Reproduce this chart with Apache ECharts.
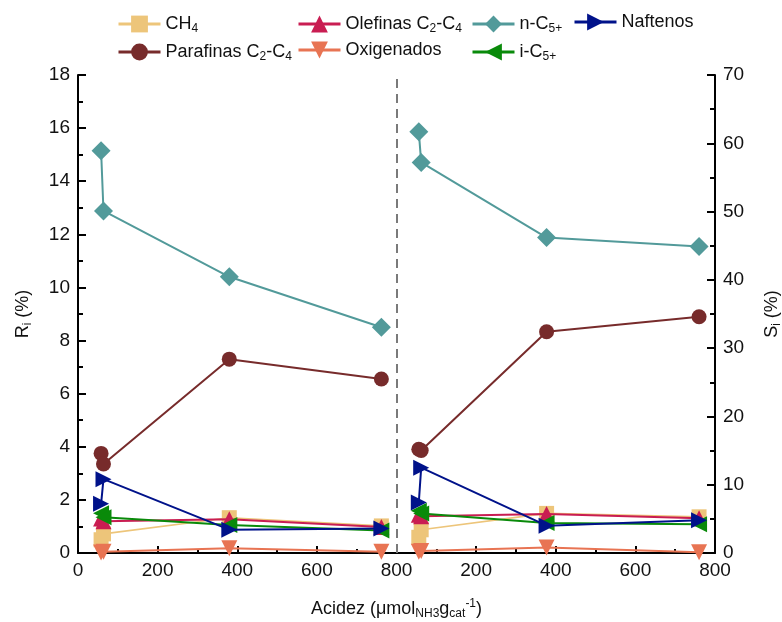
<!DOCTYPE html>
<html>
<head>
<meta charset="utf-8">
<script src="https://cdn.jsdelivr.net/npm/echarts@6/dist/echarts.min.js"></script>
<style>html,body{margin:0;padding:0;background:#fff}#c{width:782px;height:622px}</style>
</head>
<body>
<div id="c"></div>
<script>
// ---- data ----
const speciesNames = ['CH4', 'Parafinas C2-C4', 'Olefinas C2-C4', 'Oxigenados', 'n-C5+', 'i-C5+', 'Naftenos'];
// acidity (µmol NH3 / g cat) of the catalysts, left panel (R_i) and right panel (S_i)
const acidLeft = [58, 64, 380, 762];
const acidRight = [56, 62, 377, 760];
// R_i (%) – left panel
const rCH4 = [0.5, 0.72, 1.33, 1.02];
const rParafinas = [3.75, 3.35, 7.3, 6.55];
const rOlefinas = [1.3, 1.2, 1.27, 0.98];
const rOxigenados = [0.02, 0.05, 0.18, 0.05];
const rNC5 = [15.15, 12.88, 10.4, 8.5];
const rIC5 = [1.5, 1.35, 1.05, 0.85];
const rNaftenos = [1.85, 2.78, 0.88, 0.92];
// S_i (%) – right panel
const sCH4 = [2.3, 3.4, 5.8, 5.3];
const sParafinas = [15.2, 15.0, 32.4, 34.6];
const sOlefinas = [5.6, 5.4, 5.7, 5.1];
const sOxigenados = [0.2, 0.3, 0.8, 0.1];
const sNC5 = [61.7, 57.2, 46.2, 44.9];
const sIC5 = [6.2, 5.8, 4.4, 4.2];
const sNaftenos = [7.4, 12.5, 4.0, 4.8];
// axis ticks
const xTickStep = 200;
const panelWidth = 800;
const rTicks = {min: 0, max: 18, interval: 2};
const sTicks = {min: 0, max: 70, interval: 10};

// ---- styles ----
const styles = {
  'CH4': {color: '#EDC57A', symbol: 'rect', rotate: 0, size: 15, width: 1.6},
  'Parafinas C2-C4': {color: '#772B2B', symbol: 'circle', rotate: 0, size: 15, width: 2},
  'Olefinas C2-C4': {color: '#C91D52', symbol: 'triangle', rotate: 0, size: 16, width: 2},
  'Oxigenados': {color: '#E87453', symbol: 'triangle', rotate: 180, size: 16, width: 2},
  'n-C5+': {color: '#529A9A', symbol: 'diamond', rotate: 0, size: 19, width: 2},
  'i-C5+': {color: '#098A0A', symbol: 'triangle', rotate: 90, size: 16, width: 2},
  'Naftenos': {color: '#00128A', symbol: 'triangle', rotate: -90, size: 16, width: 2}
};
const leftVals = {'CH4': rCH4, 'Parafinas C2-C4': rParafinas, 'Olefinas C2-C4': rOlefinas, 'Oxigenados': rOxigenados, 'n-C5+': rNC5, 'i-C5+': rIC5, 'Naftenos': rNaftenos};
const rightVals = {'CH4': sCH4, 'Parafinas C2-C4': sParafinas, 'Olefinas C2-C4': sOlefinas, 'Oxigenados': sOxigenados, 'n-C5+': sNC5, 'i-C5+': sIC5, 'Naftenos': sNaftenos};
const legendLabels = {
  'CH4': '{n|CH}{s|4}',
  'Parafinas C2-C4': '{n|Parafinas C}{s|2}{n|-C}{s|4}',
  'Olefinas C2-C4': '{n|Olefinas C}{s|2}{n|-C}{s|4}',
  'Oxigenados': '{n|Oxigenados}',
  'n-C5+': '{n|n-C}{s|5+}',
  'i-C5+': '{n|i-C}{s|5+}',
  'Naftenos': '{n|Naftenos}'
};
const richText = {
  n: {fontSize: 18, fontFamily: 'Liberation Sans, Arial', color: '#111', lineHeight: 22},
  s: {fontSize: 12, fontFamily: 'Liberation Sans, Arial', color: '#111', verticalAlign: 'bottom', lineHeight: 14, padding: [10, 0, 0, 0]},
  p: {fontSize: 12, fontFamily: 'Liberation Sans, Arial', color: '#111', verticalAlign: 'top', lineHeight: 14, padding: [0, 0, 10, 0]}
};

const series = [];
speciesNames.forEach((name, k) => {
  const st = styles[name];
  const common = {
    name: name, type: 'line', symbol: st.symbol, symbolSize: st.size, symbolRotate: st.rotate,
    itemStyle: {color: st.color}, lineStyle: {color: st.color, width: st.width},
    z: 2 + k, animation: false
  };
  series.push(Object.assign({}, common, {
    xAxisIndex: 0, yAxisIndex: 0,
    data: acidLeft.map((x, i) => [x, leftVals[name][i]])
  }));
  series.push(Object.assign({}, common, {
    xAxisIndex: 0, yAxisIndex: 1,
    data: acidRight.map((x, i) => [x + panelWidth, rightVals[name][i]])
  }));
});
series[0].markLine = {
  silent: true, symbol: 'none', label: {show: false},
  lineStyle: {color: '#7a7a7a', type: [9, 6], width: 2},
  data: [{xAxis: panelWidth}]
};

const legendPos = {
  'CH4': [117, 13], 'Olefinas C2-C4': [297, 13], 'n-C5+': [471, 13], 'Naftenos': [573, 13],
  'Parafinas C2-C4': [117, 41], 'Oxigenados': [297, 41], 'i-C5+': [471, 41]
};
const legends = speciesNames.map(name => ({
  data: [name], left: legendPos[name][0], top: legendPos[name][1], padding: 0,
  itemWidth: 42, itemHeight: 21, selectedMode: false,
  lineStyle: {width: 3},
  formatter: n => legendLabels[n],
  textStyle: {rich: richText, fontSize: 18}
}));

const axisLabelStyle = {fontSize: 19, color: '#111', fontFamily: 'Liberation Sans, Arial'};
const option = {
  backgroundColor: '#fff',
  animation: false,
  legend: legends,
  grid: {left: 78, right: 67, top: 75, bottom: 69, containLabel: false, outerBoundsMode: 'none'},
  xAxis: {
    type: 'value', min: 0, max: 2 * panelWidth, interval: xTickStep,
    name: '{n|Acidez (μmol}{s|NH3}{n|g}{s|cat}{p|-1}{n|)}',
    nameLocation: 'middle', nameGap: 45,
    nameTextStyle: {rich: richText},
    axisLine: {lineStyle: {color: '#000', width: 2}},
    axisTick: {inside: true, length: 7, lineStyle: {color: '#000', width: 2}},
    minorTick: {show: true, splitNumber: 2, length: 4, lineStyle: {color: '#000', width: 2}},
    splitLine: {show: false},
    axisLabel: Object.assign({}, axisLabelStyle, {margin: 8, formatter: v => String(v <= panelWidth ? v : v - panelWidth)})
  },
  yAxis: [{
    type: 'value', min: rTicks.min, max: rTicks.max, interval: rTicks.interval, position: 'left',
    name: '{n|R}{s|i}{n| (%)}', nameLocation: 'middle', nameGap: 44, nameRotate: 90,
    nameTextStyle: {rich: richText},
    axisLine: {show: true, lineStyle: {color: '#000', width: 2}},
    axisTick: {show: true, inside: true, length: 8, lineStyle: {color: '#000', width: 2}},
    minorTick: {show: true, splitNumber: 2, length: 5, lineStyle: {color: '#000', width: 2}},
    splitLine: {show: false},
    axisLabel: Object.assign({}, axisLabelStyle, {margin: 8})
  }, {
    type: 'value', min: sTicks.min, max: sTicks.max, interval: sTicks.interval, position: 'right',
    name: '{n|S}{s|i}{n| (%)}', nameLocation: 'middle', nameGap: 46, nameRotate: 90,
    nameTextStyle: {rich: richText},
    axisLine: {show: true, lineStyle: {color: '#000', width: 2}},
    axisTick: {show: true, inside: true, length: 8, lineStyle: {color: '#000', width: 2}},
    minorTick: {show: true, splitNumber: 2, length: 5, lineStyle: {color: '#000', width: 2}},
    splitLine: {show: false},
    axisLabel: Object.assign({}, axisLabelStyle, {margin: 8})
  }],
  series: series
};
const chart = echarts.init(document.getElementById('c'), null, {renderer: 'canvas'});
chart.setOption(option);
</script>
</body>
</html>
